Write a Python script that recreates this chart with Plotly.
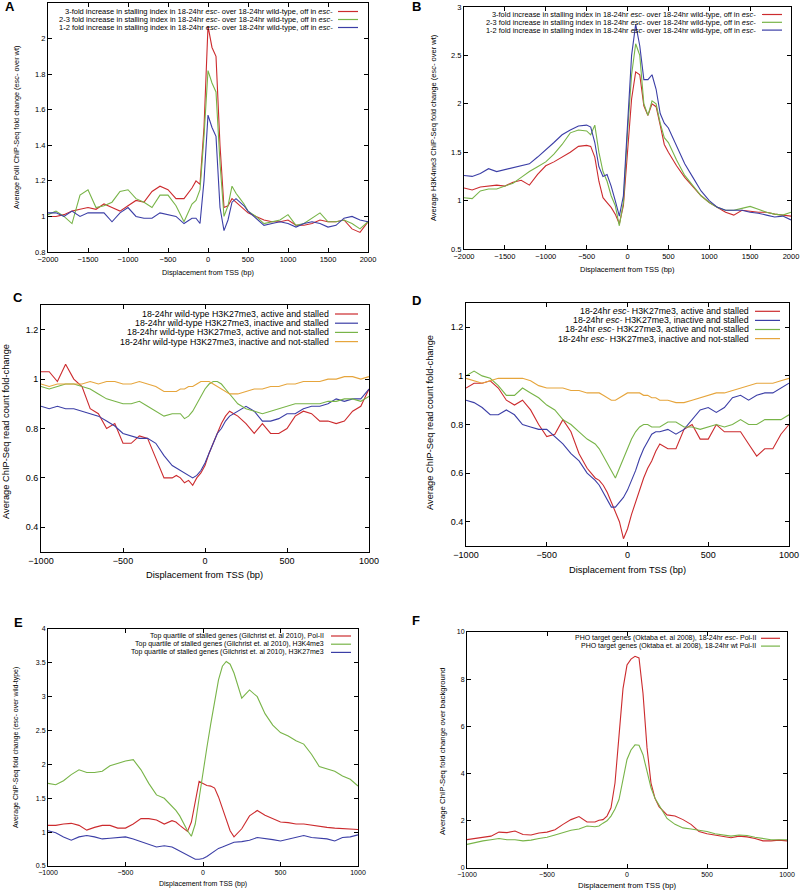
import plotly.graph_objects as go

# ---- data ----
# panels A and B: displacement from TSS (bp)
x_a = [-2000, -1900, -1800, -1700, -1600, -1500, -1400, -1300, -1200, -1100, -1000, -900, -800, -700, -600, -500, -400, -300, -200,
       -150, -100, -50, 0, 50, 100, 150, 200, 250, 300, 350, 400, 450,
       500, 600, 700, 800, 900, 1000, 1100, 1200, 1300, 1400, 1500, 1600, 1700, 1800, 1900, 2000]
a_3fold = [1.00, 1.00, 1.01, 1.03, 1.04, 1.05, 1.04, 1.07, 1.05, 1.03, 1.06, 1.09, 1.08, 1.14, 1.17, 1.15, 1.10, 1.10, 1.16,
           1.20, 1.18, 1.50, 2.07, 1.95, 1.90, 1.40, 1.05, 1.06, 1.10, 1.08, 1.06, 1.04,
           1.02, 1.00, 0.98, 0.97, 0.97, 0.98, 0.95, 0.95, 0.96, 0.98, 0.97, 0.97, 0.98, 0.93, 0.91, 0.97]
a_2_3fold = [1.01, 1.03, 1.00, 0.96, 1.12, 1.15, 1.05, 1.06, 1.08, 1.14, 1.15, 1.10, 1.08, 1.05, 1.12, 1.12, 1.06, 0.97, 1.07,
             1.09, 1.15, 1.45, 1.82, 1.75, 1.70, 1.30, 1.00, 1.06, 1.17, 1.13, 1.10, 1.07,
             1.03, 1.00, 0.96, 0.97, 0.98, 1.01, 0.95, 0.96, 0.99, 1.02, 0.97, 0.97, 0.98, 0.96, 0.93, 0.97]
a_1_2fold = [1.02, 1.02, 1.00, 1.03, 1.00, 1.02, 1.02, 1.02, 0.97, 1.02, 1.05, 1.00, 0.99, 0.99, 1.02, 1.01, 1.00, 0.96, 0.99,
             0.99, 0.96, 1.20, 1.57, 1.50, 1.45, 1.05, 0.92, 0.98, 1.08, 1.10, 1.08, 1.06,
             1.03, 0.99, 0.95, 0.96, 0.97, 0.96, 0.94, 0.96, 0.97, 0.96, 0.94, 0.95, 0.99, 1.00, 0.98, 0.97]

x_b = [-2000, -1900, -1800, -1700, -1600, -1500, -1400, -1300, -1200, -1100, -1000, -900, -800, -700, -600, -500,
       -450, -400, -350, -300, -250, -200, -150, -100, -50, 0, 50, 100, 150, 200, 250, 300, 350, 400, 450, 500,
       600, 700, 800, 900, 1000, 1100, 1200, 1300, 1400, 1500, 1600, 1700, 1800, 1900, 2000]
b_3fold = [1.13, 1.11, 1.14, 1.15, 1.16, 1.15, 1.19, 1.21, 1.16, 1.27, 1.36, 1.40, 1.45, 1.50, 1.56, 1.57,
           1.56, 1.45, 1.20, 1.03, 0.98, 0.93, 0.86, 0.76, 0.95, 1.55, 2.05, 2.33, 2.30, 1.98, 1.88, 2.00, 1.97, 1.78, 1.58, 1.50,
           1.36, 1.24, 1.15, 1.05, 0.98, 0.93, 0.88, 0.85, 0.90, 0.89, 0.88, 0.88, 0.86, 0.85, 0.84]
b_2_3fold = [1.03, 1.02, 1.10, 1.12, 1.12, 1.15, 1.18, 1.24, 1.30, 1.35, 1.40, 1.48, 1.58, 1.70, 1.73, 1.72,
             1.68, 1.78, 1.50, 1.30, 1.20, 1.05, 0.95, 0.74, 0.98, 1.70, 2.30, 2.62, 2.50, 2.00, 1.88, 2.03, 2.00, 1.80, 1.65, 1.60,
             1.42, 1.26, 1.16, 1.05, 0.98, 0.93, 0.90, 0.90, 0.92, 0.94, 0.91, 0.88, 0.86, 0.85, 0.88]
b_1_2fold = [1.26, 1.25, 1.28, 1.33, 1.30, 1.32, 1.34, 1.36, 1.38, 1.45, 1.52, 1.60, 1.68, 1.73, 1.77, 1.78,
             1.76, 1.60, 1.35, 1.25, 1.27, 1.15, 1.00, 0.84, 1.05, 1.80, 2.50, 2.82, 2.60, 2.25, 2.25, 2.30, 2.15, 1.90, 1.80, 1.75,
             1.56, 1.38, 1.24, 1.10, 1.00, 0.93, 0.90, 0.90, 0.90, 0.88, 0.87, 0.85, 0.83, 0.84, 0.80]

# panels C-F
x_c = [-1000, -950, -900, -850, -800, -750, -700, -650, -600, -550, -500, -450, -400, -350, -300, -250, -200,
       -175, -150, -125, -100, -75, -50, -25, 0, 25, 50, 75, 100, 125, 150, 175, 200,
       250, 300, 350, 400, 450, 500, 550, 600, 650, 700, 750, 800, 850, 900, 950, 1000]

c_act_stall = [1.03, 1.03, 0.99, 1.06, 1.00, 0.97, 0.88, 0.86, 0.80, 0.82, 0.74, 0.74, 0.77, 0.76, 0.68, 0.60, 0.60,
               0.61, 0.60, 0.58, 0.59, 0.57, 0.60, 0.62, 0.65, 0.70, 0.74, 0.78, 0.82, 0.85, 0.87, 0.86, 0.85,
               0.82, 0.78, 0.82, 0.78, 0.78, 0.80, 0.85, 0.87, 0.86, 0.83, 0.83, 0.82, 0.83, 0.87, 0.89, 0.96]
c_inact_stall = [0.89, 0.88, 0.89, 0.88, 0.88, 0.87, 0.86, 0.85, 0.83, 0.81, 0.78, 0.77, 0.76, 0.76, 0.74, 0.69, 0.65,
                 0.64, 0.63, 0.62, 0.61, 0.60, 0.61, 0.63, 0.66, 0.70, 0.74, 0.78, 0.80, 0.83, 0.85, 0.86, 0.87,
                 0.89, 0.87, 0.83, 0.83, 0.84, 0.86, 0.86, 0.88, 0.89, 0.89, 0.90, 0.92, 0.91, 0.92, 0.92, 0.96]
c_act_nostall = [0.97, 0.96, 0.97, 0.98, 0.98, 0.97, 0.96, 0.94, 0.92, 0.91, 0.90, 0.90, 0.91, 0.89, 0.87, 0.85, 0.86,
                 0.86, 0.86, 0.84, 0.85, 0.87, 0.90, 0.93, 0.96, 0.98, 0.99, 0.99, 0.98, 0.96, 0.94, 0.92, 0.90,
                 0.88, 0.87, 0.86, 0.87, 0.88, 0.89, 0.90, 0.90, 0.90, 0.90, 0.91, 0.91, 0.92, 0.92, 0.91, 0.93]
c_inact_nostall = [0.98, 0.97, 0.98, 0.98, 0.98, 0.98, 0.99, 0.98, 0.99, 0.99, 0.98, 0.98, 0.99, 0.98, 0.97, 0.95, 0.95,
                   0.95, 0.96, 0.96, 0.97, 0.97, 0.98, 0.99, 0.99, 0.99, 0.98, 0.97, 0.96, 0.95, 0.94, 0.94, 0.94,
                   0.95, 0.96, 0.96, 0.97, 0.97, 0.98, 0.98, 0.99, 0.99, 0.99, 1.00, 1.00, 1.01, 1.01, 1.00, 1.01]

d_act_stall = [0.95, 0.97, 0.97, 0.98, 0.95, 0.90, 0.88, 0.90, 0.86, 0.80, 0.75, 0.76, 0.82, 0.77, 0.68, 0.62, 0.58,
               0.57, 0.55, 0.52, 0.48, 0.44, 0.40, 0.33, 0.37, 0.43, 0.48, 0.53, 0.58, 0.62, 0.65, 0.69, 0.72,
               0.70, 0.70, 0.78, 0.80, 0.74, 0.74, 0.80, 0.77, 0.77, 0.77, 0.72, 0.67, 0.70, 0.70, 0.76, 0.80]
d_inact_stall = [0.90, 0.89, 0.87, 0.84, 0.84, 0.86, 0.84, 0.80, 0.79, 0.78, 0.78, 0.75, 0.72, 0.68, 0.65, 0.60, 0.57,
                 0.55, 0.52, 0.49, 0.46, 0.46, 0.48, 0.50, 0.53, 0.57, 0.61, 0.66, 0.70, 0.73, 0.76, 0.77, 0.77,
                 0.78, 0.76, 0.78, 0.82, 0.86, 0.87, 0.85, 0.87, 0.91, 0.92, 0.90, 0.92, 0.93, 0.93, 0.95, 0.97]
d_act_nostall = [1.00, 1.02, 1.00, 0.99, 0.96, 0.92, 0.92, 0.95, 0.93, 0.91, 0.88, 0.86, 0.82, 0.80, 0.77, 0.74, 0.72,
                 0.70, 0.67, 0.64, 0.61, 0.58, 0.62, 0.66, 0.70, 0.74, 0.77, 0.79, 0.80, 0.80, 0.79, 0.79, 0.79,
                 0.81, 0.81, 0.79, 0.79, 0.78, 0.79, 0.80, 0.79, 0.80, 0.82, 0.80, 0.80, 0.82, 0.82, 0.82, 0.84]
d_inact_nostall = [0.99, 0.98, 0.97, 0.98, 0.99, 0.99, 0.99, 0.99, 0.98, 0.96, 0.95, 0.95, 0.95, 0.94, 0.94, 0.93, 0.93,
                   0.93, 0.92, 0.91, 0.90, 0.90, 0.91, 0.92, 0.93, 0.93, 0.93, 0.93, 0.92, 0.92, 0.91, 0.91, 0.90,
                   0.90, 0.89, 0.89, 0.90, 0.91, 0.92, 0.93, 0.93, 0.94, 0.95, 0.96, 0.97, 0.97, 0.97, 0.98, 0.99]

e_polii = [1.10, 1.10, 1.12, 1.13, 1.10, 1.03, 1.07, 1.10, 1.10, 1.06, 1.06, 1.12, 1.20, 1.20, 1.18, 1.12, 1.17,
           1.15, 1.10, 1.05, 1.01, 1.15, 1.45, 1.75, 1.72, 1.69, 1.68, 1.65, 1.52, 1.35, 1.18, 1.02, 0.93,
           1.05, 1.24, 1.32, 1.25, 1.20, 1.15, 1.14, 1.12, 1.12, 1.10, 1.09, 1.07, 1.06, 1.05, 1.04, 1.04]
e_h3k4me3 = [1.72, 1.70, 1.76, 1.85, 1.92, 1.88, 1.88, 1.90, 1.98, 2.02, 2.05, 2.07, 1.92, 1.72, 1.55, 1.50, 1.38,
             1.32, 1.24, 1.12, 1.02, 0.94, 1.12, 1.50, 1.90, 2.25, 2.60, 2.95, 3.25, 3.45, 3.52, 3.48, 3.35,
             2.98, 3.10, 3.00, 2.75, 2.58, 2.47, 2.42, 2.35, 2.30, 2.15, 1.97, 1.93, 1.90, 1.83, 1.78, 1.68]
e_h3k27me3 = [1.02, 0.99, 0.93, 0.88, 0.93, 0.95, 0.93, 0.90, 0.91, 0.92, 0.93, 0.90, 0.86, 0.83, 0.78, 0.80, 0.78,
              0.75, 0.72, 0.69, 0.66, 0.63, 0.60, 0.60, 0.61, 0.64, 0.68, 0.72, 0.76, 0.78, 0.80, 0.82, 0.85,
              0.86, 0.88, 0.92, 0.91, 0.89, 0.87, 0.90, 0.93, 0.95, 0.92, 0.91, 0.90, 0.87, 0.92, 0.93, 0.96]

f_esc = [1.20, 1.25, 1.30, 1.35, 1.52, 1.50, 1.57, 1.42, 1.40, 1.48, 1.52, 1.62, 1.85, 2.05, 2.18, 1.95, 1.95,
         2.02, 2.05, 2.20, 2.55, 3.60, 5.60, 7.60, 8.60, 8.85, 8.97, 8.90, 7.40, 5.10, 3.60, 2.95, 2.60,
         2.25, 2.20, 2.05, 1.85, 1.55, 1.45, 1.40, 1.35, 1.28, 1.35, 1.32, 1.25, 1.15, 1.15, 1.18, 1.15]
f_wt = [1.00, 1.08, 1.15, 1.20, 1.25, 1.20, 1.20, 1.15, 1.18, 1.25, 1.30, 1.40, 1.50, 1.60, 1.65, 1.78, 1.75,
        1.78, 1.90, 2.00, 2.20, 2.50, 2.90, 3.80, 4.60, 5.00, 5.22, 5.20, 4.80, 4.10, 3.40, 2.95, 2.65,
        2.10, 1.85, 1.70, 1.65, 1.60, 1.55, 1.45, 1.40, 1.35, 1.40, 1.38, 1.30, 1.25, 1.20, 1.20, 1.20]

stall_labels = [
    "3-fold increase in stalling index in 18-24hr <i>esc-</i> over 18-24hr wild-type, off in <i>esc-</i>",
    "2-3 fold increase in stalling index in 18-24hr <i>esc-</i> over 18-24hr wild-type, off in <i>esc-</i>",
    "1-2 fold increase in stalling index in 18-24hr <i>esc-</i> over 18-24hr wild-type, off in <i>esc-</i>",
]
wt_labels = [
    "18-24hr wild-type H3K27me3, active and stalled",
    "18-24hr wild-type H3K27me3, inactive and stalled",
    "18-24hr wild-type H3K27me3, active and not-stalled",
    "18-24hr wild-type H3K27me3, inactive and not-stalled",
]
esc_labels = [
    "18-24hr <i>esc-</i> H3K27me3, active and stalled",
    "18-24hr <i>esc-</i> H3K27me3, inactive and stalled",
    "18-24hr <i>esc-</i> H3K27me3, active and not-stalled",
    "18-24hr <i>esc-</i> H3K27me3, inactive and not-stalled",
]
gil_labels = [
    "Top quartile of stalled genes (Gilchrist et. al 2010), Pol-II",
    "Top quartile of stalled genes (Gilchrist et. al 2010), H3K4me3",
    "Top quartile of stalled genes (Gilchrist et. al 2010), H3K27me3",
]
pho_labels = [
    "PHO target genes (Oktaba et. al 2008), 18-24hr <i>esc-</i> Pol-II",
    "PHO target genes (Oktaba et. al 2008), 18-24hr wt Pol-II",
]

W, H = 800, 892
FONT = "Liberation Sans, Arial, Helvetica, sans-serif"
RED, GREEN, BLUE, ORANGE = "#cc2b2e", "#78b448", "#3b3ea6", "#e6a53c"
XTITLE = "Displacement from TSS (bp)"


def px(x):
    return x / W


def py(y):
    return 1 - y / H


# box = (left, top, right, bottom) in page pixels
# legend = (text right edge, first row y, row step, sample x0, sample x1)
# xt = y of x-title, yt = (x, y) centre of the y-title
panels = [
    dict(letter="A", lpos=(10, 7), box=(48, 3, 368, 252), xr=[-2000, 2000], dx=500, yr=[0.8, 2.2], dy=0.2,
         fs=7.5, lfs=7.5, tfs=7.3, xt=272.5, yt=(17, 128),
         ytitle="Average PolII ChIP-Seq fold change (<i>esc-</i> over wt)",
         x=x_a, series=[a_3fold, a_2_3fold, a_1_2fold], colors=[RED, GREEN, BLUE],
         labels=stall_labels, legend=(334, 11.5, 8, 338, 358)),
    dict(letter="B", lpos=(416, 7), box=(464, 7, 791, 249), xr=[-2000, 2000], dx=500, yr=[0.5, 3], dy=0.5,
         fs=7.5, lfs=7.4, tfs=7.5, xt=269, yt=(434, 128),
         ytitle="Average H3K4me3 ChIP-Seq fold change (<i>esc-</i> over wt)",
         x=x_b, series=[b_3fold, b_2_3fold, b_1_2fold], colors=[RED, GREEN, BLUE],
         labels=stall_labels, legend=(757, 14.5, 7.8, 762, 782)),
    dict(letter="C", lpos=(18, 298), box=(41, 305, 369, 552), xr=[-1000, 1000], dx=500, yr=[0.3, 1.3], dy=0.2,
         fs=9, lfs=8.8, tfs=9.3, xt=575, yt=(6, 432),
         ytitle="Average ChIP-Seq read count fold-change",
         x=x_c, series=[c_act_stall, c_inact_stall, c_act_nostall, c_inact_nostall],
         colors=[RED, BLUE, GREEN, ORANGE], labels=wt_labels, legend=(330, 314, 9.2, 335, 358)),
    dict(letter="D", lpos=(416, 300), box=(466, 303, 789, 546), xr=[-1000, 1000], dx=500, yr=[0.3, 1.3], dy=0.2,
         fs=9, lfs=8.8, tfs=9.3, xt=570, yt=(430, 423),
         ytitle="Average ChIP-Seq read count fold-change",
         x=x_c, series=[d_act_stall, d_inact_stall, d_act_nostall, d_inact_nostall],
         colors=[RED, BLUE, GREEN, ORANGE], labels=esc_labels, legend=(750, 311.3, 9.1, 755, 780)),
    dict(letter="E", lpos=(18, 622), box=(48, 629, 358, 866), xr=[-1000, 1000], dx=500, yr=[0.5, 4], dy=0.5,
         fs=7, lfs=7, tfs=7, xt=884, yt=(16, 748),
         ytitle="Average ChIP-Seq fold change (<i>esc-</i> over wild-type)",
         x=x_c, series=[e_polii, e_h3k4me3, e_h3k27me3], colors=[RED, GREEN, BLUE],
         labels=gil_labels, legend=(325, 636, 8.2, 331, 351)),
    dict(letter="F", lpos=(416, 620), box=(467, 632, 787, 868), xr=[-1000, 1000], dx=500, yr=[0, 10], dy=2,
         fs=7, lfs=7, tfs=7.8, xt=885, yt=(442, 751),
         ytitle="Average ChIP-Seq fold change over background",
         x=x_c, series=[f_esc, f_wt], colors=[RED, GREEN],
         labels=pho_labels, legend=(757, 638.3, 7.8, 761, 780)),
]

fig = go.Figure()
annotations = []
shapes = []
layout_axes = {}

for n, p in enumerate(panels, start=1):
    l, t, r, b = p["box"]
    sfx = "" if n == 1 else str(n)
    axis_common = dict(
        showgrid=False, zeroline=False, showline=True, linecolor="black", linewidth=1,
        mirror="ticks", ticks="inside", ticklen=4, tickcolor="black", automargin=False,
        tickfont=dict(family=FONT, size=p["fs"], color="black"),
    )
    layout_axes["xaxis" + sfx] = dict(domain=[px(l), px(r)], anchor="y" + sfx, range=p["xr"],
                                      dtick=p["dx"], tick0=0, **axis_common)
    layout_axes["yaxis" + sfx] = dict(domain=[py(b), py(t)], anchor="x" + sfx, range=p["yr"],
                                      dtick=p["dy"], tick0=0, **axis_common)

    for ys, col in zip(p["series"], p["colors"]):
        fig.add_trace(go.Scatter(x=p["x"], y=ys, mode="lines", line=dict(color=col, width=1.1),
                                 xaxis="x" + sfx, yaxis="y" + sfx, showlegend=False, hoverinfo="skip"))

    # axis titles
    tfont = dict(family=FONT, size=p["tfs"], color="black")
    annotations.append(dict(x=px((l + r) / 2), y=py(p["xt"]), xref="paper", yref="paper", text=XTITLE,
                            showarrow=False, xanchor="center", yanchor="middle", font=tfont))
    annotations.append(dict(x=px(p["yt"][0]), y=py(p["yt"][1]), xref="paper", yref="paper", text=p["ytitle"],
                            showarrow=False, xanchor="center", yanchor="middle", textangle=-90, font=tfont))

    # gnuplot-style key: right-aligned text with the line sample to its right
    tx, ty0, step, s0, s1 = p["legend"]
    for i, (lab, col) in enumerate(zip(p["labels"], p["colors"])):
        yy = ty0 + i * step
        annotations.append(dict(x=px(tx), y=py(yy), xref="paper", yref="paper", text=lab, showarrow=False,
                                xanchor="right", yanchor="middle", borderpad=0,
                                font=dict(family=FONT, size=p["lfs"], color="black")))
        shapes.append(dict(type="line", xref="paper", yref="paper", x0=px(s0), x1=px(s1), y0=py(yy), y1=py(yy),
                           line=dict(color=col, width=1.2)))

    lx, ly = p["lpos"]
    annotations.append(dict(x=px(lx), y=py(ly), xref="paper", yref="paper", text="<b>%s</b>" % p["letter"],
                            showarrow=False, xanchor="center", yanchor="middle",
                            font=dict(family=FONT, size=13, color="black")))

fig.update_layout(
    width=W, height=H, margin=dict(l=0, r=0, t=0, b=0),
    paper_bgcolor="white", plot_bgcolor="white",
    font=dict(family=FONT, color="black"),
    annotations=annotations, shapes=shapes,
    **layout_axes,
)

# drop the browser's default page margin so the figure sits at the window's corner
fig.write_html("out.html", config={"displayModeBar": False},
               post_script="document.body.style.margin = '0';")
